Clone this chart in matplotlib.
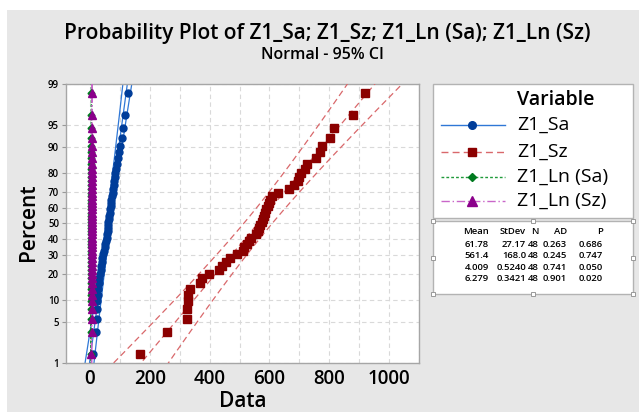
import numpy as np
import matplotlib
matplotlib.use('Agg')
import matplotlib.pyplot as plt
from matplotlib.patches import Rectangle
from statistics import NormalDist

plt.rcParams['font.family'] = ['Open Sans', 'DejaVu Sans']

# --- Data ---
variables = ['Z1_Sa', 'Z1_Sz', 'Z1_Ln (Sa)', 'Z1_Ln (Sz)']

z1_sa = [9, 21, 22, 23, 24, 26, 27, 29, 30, 32,
         36, 37, 39, 41, 44, 47, 49, 51, 53, 56,
         58, 59, 60, 61, 62, 63, 65, 66, 68, 70,
         71, 72, 74, 76, 77, 79, 81, 83, 85, 88,
         91, 93, 97, 102, 106, 111, 117, 127]
z1_sz = [168, 256, 324, 325, 327, 328, 335, 369, 374, 398,
         430, 442, 455, 468, 493, 510, 516, 525, 532, 540,
         555, 562, 566, 570, 575, 578, 582, 586, 590, 594,
         598, 602, 610, 628, 665, 682, 694, 700, 706, 718,
         724, 755, 768, 777, 804, 815, 878, 920]
z1_ln_sa = np.log(z1_sa)
z1_ln_sz = np.log(z1_sz)

# summary table (as printed in the chart)
means = [61.78, 561.4, 4.009, 6.279]
stdevs = [27.17, 168.0, 0.5240, 0.3421]
n_obs = [48, 48, 48, 48]
ad_stats = [0.263, 0.245, 0.741, 0.901]
p_values = [0.686, 0.747, 0.050, 0.020]

pct_ticks = [1, 5, 10, 20, 30, 40, 50, 60, 70, 80, 90, 95, 99]
x_ticks = [0, 200, 400, 600, 800, 1000]
# ---------------------------------

W, H = 639, 412
nd = NormalDist()

marker_col = ['#003d99', '#8b0000', '#007a1f', '#8b008b']
line_col = ['#2f77d6', '#d9686b', '#1f9a3a', '#c966c9']
line_sty = ['-', (0, (5, 3)), (0, (2, 1.5)), (0, (6, 2, 1, 2))]
markers = ['o', 's', 'D', '^']
msizes = [5, 5.5, 3.5, 6]

fig = plt.figure(figsize=(W / 100, H / 100), dpi=100)
fig.patch.set_facecolor('white')
fig.add_artist(Rectangle((7 / W, 0), 1, (H - 10) / H, transform=fig.transFigure,
                         facecolor='#e7e7e7', edgecolor='none', zorder=-5))

ax = fig.add_axes([66 / W, (H - 363) / H, (419 - 66) / W, (363 - 84) / H])
ax.set_facecolor('white')

# fitted line and 95% CI bands use the printed mean / stdev
zgrid = np.linspace(-2.8, 2.8, 200)
for k, data in enumerate([z1_sa, z1_sz, z1_ln_sa, z1_ln_sz]):
    d = np.sort(np.asarray(data, dtype=float))
    n = len(d)
    zp = np.array([nd.inv_cdf((i - 0.3) / (n + 0.4)) for i in range(1, n + 1)])
    mu, sd = means[k], stdevs[k]
    fit = mu + sd * zgrid
    half = 1.96 * sd * np.sqrt(1 / n_obs[k] + zgrid ** 2 / (2 * n_obs[k]))
    for xs in (fit, fit - half, fit + half):
        ax.plot(xs, zgrid, color=line_col[k], ls=line_sty[k], lw=0.9, zorder=2 + k)
    ax.plot(d, zp, ls='none', marker=markers[k], ms=msizes[k], color=marker_col[k],
            mec=marker_col[k], zorder=6 + k)

zlo, zhi = nd.inv_cdf(0.01), nd.inv_cdf(0.99)
ax.set_ylim(zlo, zhi)
ax.set_xlim(-80, 1100)
ax.set_yticks([nd.inv_cdf(p / 100) for p in pct_ticks])
ax.set_yticklabels([str(p) for p in pct_ticks], fontsize=7, fontweight='semibold')
ax.set_xticks(x_ticks)
ax.set_xticklabels([str(t) for t in x_ticks], fontsize=13.5, fontweight='semibold')
ax.set_xticks(np.arange(0, 1101, 100), minor=True)
ax.grid(True, which='both', axis='x', ls=(0, (4, 3)), color='#d9d9d9', lw=0.8)
ax.grid(True, which='major', axis='y', ls=(0, (4, 3)), color='#d9d9d9', lw=0.8)
ax.tick_params(axis='y', length=3, color='#999999', pad=2)
ax.tick_params(axis='x', length=0, pad=4)
ax.tick_params(axis='x', which='minor', length=0)
for s in ax.spines.values():
    s.set_color('#a6a6a6')
    s.set_linewidth(1.0)

ax.set_xlabel('Data', fontsize=15, fontweight='semibold', labelpad=2)
fig.text(28 / W, 1 - 222 / H, 'Percent', rotation=90, fontsize=15,
         fontweight='semibold', ha='center', va='center')

fig.text(327 / W, 1 - 33 / H, 'Probability Plot of Z1_Sa; Z1_Sz; Z1_Ln (Sa); Z1_Ln (Sz)',
         fontsize=15, fontweight='semibold', ha='center', va='center')
fig.text(322 / W, 1 - 55 / H, 'Normal - 95% CI', fontsize=11.5,
         fontweight='semibold', ha='center', va='center')

# overlay in pixel coordinates for legend and table boxes
ov = fig.add_axes([0, 0, 1, 1], zorder=10)
ov.set_xlim(0, W)
ov.set_ylim(H, 0)
ov.axis('off')
ov.patch.set_alpha(0)

ov.add_patch(Rectangle((433, 84), 200, 134, facecolor='white', edgecolor='#b3b3b3', lw=1))
ov.text(517, 100, 'Variable', fontsize=14, fontweight='semibold', va='center')
leg_y = [125, 152, 177, 201]
for k, name in enumerate(variables):
    ov.plot([441, 505], [leg_y[k]] * 2, color=line_col[k], ls=line_sty[k], lw=1.0)
    ov.plot([472], [leg_y[k]], marker=markers[k], ms=msizes[k] + 0.5, color=marker_col[k])
    ov.text(517, leg_y[k], name, fontsize=14, va='center')

ov.add_patch(Rectangle((433, 221), 200, 73, facecolor='white', edgecolor='#b3b3b3', lw=1))
col_right = [489, 526, 539, 567, 603]
headers = ['Mean', 'StDev', 'N', 'AD', 'P']
for j, h in enumerate(headers):
    ov.text(col_right[j], 231, h, fontsize=6.8, fontweight='semibold', ha='right', va='center')
row_y = [244, 255.5, 267, 278.5]
for k in range(4):
    cells = [f'{means[k]:#.4g}', f'{stdevs[k]:#.4g}', str(n_obs[k]),
             f'{ad_stats[k]:.3f}', f'{p_values[k]:.3f}']
    for j, c in enumerate(cells):
        ov.text(col_right[j], row_y[k], c, fontsize=6.8, fontweight='semibold',
                ha='right', va='center')

# selection handles around the table box
for hx in [433, 533, 633]:
    for hy in [221, 294]:
        ov.add_patch(Rectangle((hx - 2, hy - 2), 4, 4, facecolor='white',
                               edgecolor='#999999', lw=0.7))
for hx in [433, 633]:
    ov.add_patch(Rectangle((hx - 2, 255.5), 4, 4, facecolor='white',
                           edgecolor='#999999', lw=0.7))

fig.savefig('out.png', dpi=100)
